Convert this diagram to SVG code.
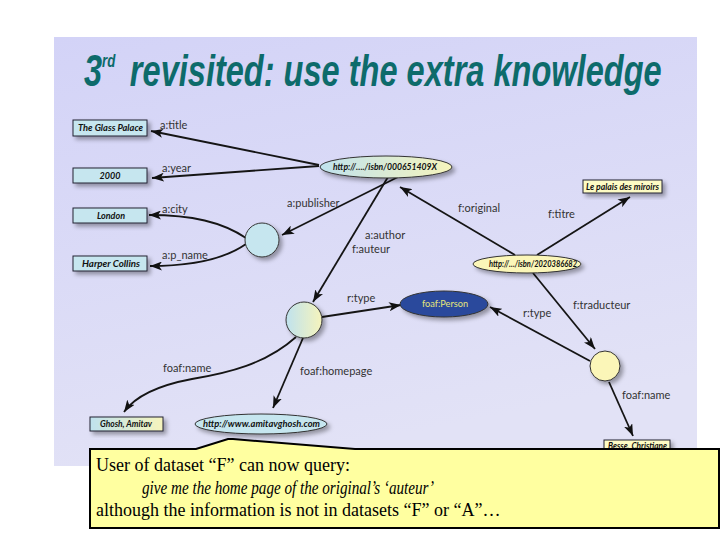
<svg xmlns="http://www.w3.org/2000/svg" width="720" height="540" viewBox="0 0 720 540">
<defs>
<linearGradient id="bg" x1="0" y1="0" x2="0.3" y2="1">
<stop offset="0" stop-color="#d3d3f7"/>
<stop offset="1" stop-color="#e2e2f6"/>
</linearGradient>
<linearGradient id="by" x1="0" y1="0" x2="1" y2="0">
<stop offset="0" stop-color="#bfe2ee"/>
<stop offset="1" stop-color="#f6f4bc"/>
</linearGradient>
<filter id="sh" x="-20%" y="-30%" width="150%" height="180%">
<feDropShadow dx="3" dy="3" stdDeviation="2" flood-color="#000" flood-opacity="0.35"/>
</filter>
<marker id="ah" viewBox="0 0 12 9" refX="12" refY="4.5" markerWidth="12" markerHeight="9" markerUnits="userSpaceOnUse" orient="auto">
<path d="M0,0 L12,4.5 L0,9 L3,4.5 Z" fill="#111"/>
</marker>
</defs>
<style>
.edge{fill:none;stroke:#151515;stroke-width:1.8;marker-end:url(#ah)}
.lbl{font-family:Lato,"Open Sans",sans-serif;font-size:11px;fill:#333}
.nt{font-family:Lato,"Open Sans",sans-serif;font-size:9px;font-weight:bold;font-style:italic;fill:#111}
.bbox{fill:#c6e6ef;stroke:#223;stroke-width:1;filter:url(#sh)}
.ybox{fill:#fdfbc4;stroke:#223;stroke-width:1;filter:url(#sh)}
.shp{stroke:#333;stroke-width:1;filter:url(#sh)}
.ct{font-family:"Liberation Serif","Times New Roman",serif;font-size:18px;fill:#000}
.tt{font-family:"Liberation Sans",Arial,sans-serif;font-weight:bold;font-style:italic;fill:#0d6b6b}
</style>
<rect x="0" y="0" width="720" height="540" fill="#fff"/>
<rect x="54" y="37" width="643" height="429" fill="url(#bg)"/>
<g id="title" transform="translate(84,86) scale(0.74,1)">
<text class="tt" x="0" y="0" font-size="44">3<tspan dy="-19" font-size="18">rd</tspan><tspan x="62" dy="19" font-size="44">revisited: use the extra knowledge</tspan></text>
</g>
<g id="connectors">
<path class="edge" d="M319,165 L151,131"/>
<path class="edge" d="M319,166 L152,178"/>
<path class="edge" d="M246,238 C222,222 192,215 149,215"/>
<path class="edge" d="M246,244 C226,258 196,266 150,266"/>
<path class="edge" d="M398,177 L282,235"/>
<path class="edge" d="M388,177 L313,302"/>
<path class="edge" d="M515,255 L400,187"/>
<path class="edge" d="M537,255 L630,197"/>
<path class="edge" d="M322,317 L401,305"/>
<path class="edge" d="M533,273 L595,349"/>
<path class="edge" d="M590,361 L490,307"/>
<path class="edge" d="M609,382 L633,436"/>
<path class="edge" d="M296,337 C266,364 228,373 192,379 C160,385 136,395 124,412"/>
<path class="edge" d="M303,338 L273,408"/>
<text class="lbl" x="160" y="129">a:title</text>
<text class="lbl" x="162" y="172">a:year</text>
<text class="lbl" x="162" y="213">a:city</text>
<text class="lbl" x="162" y="259">a:p_name</text>
<text class="lbl" x="287" y="207">a:publisher</text>
<text class="lbl" x="365" y="239">a:author</text>
<text class="lbl" x="352" y="253">f:auteur</text>
<text class="lbl" x="458" y="212">f:original</text>
<text class="lbl" x="548" y="218">f:titre</text>
<text class="lbl" x="347" y="302">r:type</text>
<text class="lbl" x="573" y="309">f:traducteur</text>
<text class="lbl" x="523" y="317">r:type</text>
<text class="lbl" x="163" y="372">foaf:name</text>
<text class="lbl" x="300" y="375">foaf:homepage</text>
<text class="lbl" x="622" y="399">foaf:name</text>
</g>
<g id="glass-palace">
<rect class="bbox" x="73" y="120" width="74" height="16"/>
<text class="nt" x="78" y="131" textLength="65" lengthAdjust="spacingAndGlyphs">The Glass Palace</text>
</g>
<g id="year-2000">
<rect class="bbox" x="73" y="168" width="74" height="15"/>
<text class="nt" x="110" y="179" text-anchor="middle">2000</text>
</g>
<g id="london">
<rect class="bbox" x="73" y="208" width="74" height="15"/>
<text class="nt" x="111" y="219" text-anchor="middle">London</text>
</g>
<g id="harper-collins">
<rect class="bbox" x="73" y="256" width="74" height="15"/>
<text class="nt" x="82" y="267" textLength="58" lengthAdjust="spacingAndGlyphs">Harper Collins</text>
</g>
<g id="publisher-node">
<circle class="shp" cx="262" cy="240" r="17" fill="#c6e6ef"/>
</g>
<g id="isbn-a">
<ellipse class="shp" cx="386" cy="167" rx="66" ry="11" fill="url(#by)"/>
<text class="nt" x="333" y="170" textLength="104" lengthAdjust="spacingAndGlyphs">http://…./isbn/000651409X</text>
</g>
<g id="palais">
<rect class="ybox" x="583" y="180" width="79" height="13"/>
<text class="nt" x="586" y="190" textLength="73" lengthAdjust="spacingAndGlyphs">Le palais des miroirs</text>
</g>
<g id="isbn-f">
<ellipse class="shp" cx="527" cy="264" rx="54" ry="9" fill="#fbf6b8"/>
<text class="nt" x="489" y="267" textLength="88" lengthAdjust="spacingAndGlyphs">http://…/isbn/2020386682</text>
</g>
<g id="foaf-person">
<ellipse class="shp" cx="444" cy="304" rx="44" ry="13" fill="#2a4a9c" stroke="#1a2a5a"/>
<text x="422" y="307" font-family="Lato,'Open Sans',sans-serif" font-size="10" fill="#e6e67a" textLength="46" lengthAdjust="spacingAndGlyphs">foaf:Person</text>
</g>
<g id="author-node">
<circle class="shp" cx="304" cy="320" r="18" fill="url(#by)"/>
</g>
<g id="translator-node">
<circle class="shp" cx="605" cy="366" r="15" fill="#fbf6b8"/>
</g>
<g id="ghosh">
<rect x="90" y="417" width="73" height="14" stroke="#223" stroke-width="1" fill="url(#by)" filter="url(#sh)"/>
<text class="nt" x="100" y="427" textLength="52" lengthAdjust="spacingAndGlyphs">Ghosh, Amitav</text>
</g>
<g id="homepage">
<ellipse class="shp" cx="261" cy="424" rx="66" ry="10" fill="#c6e6ef"/>
<text class="nt" x="203" y="427" textLength="117" lengthAdjust="spacingAndGlyphs">http://www.amitavghosh.com</text>
</g>
<g id="besse">
<rect class="ybox" x="604" y="440" width="66" height="13"/>
<text class="nt" x="608" y="449" textLength="59" lengthAdjust="spacingAndGlyphs">Besse, Christiane</text>
</g>
<g id="callout">
<path d="M90,449 L196,449 L228,439 L233,439 L355,449 L719,449 L719,528 L90,528 Z" fill="#ffffa0" stroke="#000" stroke-width="2"/>
<text class="ct" x="96" y="471">User of dataset “F” can now query:</text>
<text class="ct" x="142" y="494" font-style="italic" font-size="17" textLength="292" lengthAdjust="spacingAndGlyphs">give me the home page of the original’s ‘auteur’</text>
<text class="ct" x="96" y="516">although the information is not in datasets “F” or “A”…</text>
</g>
</svg>
